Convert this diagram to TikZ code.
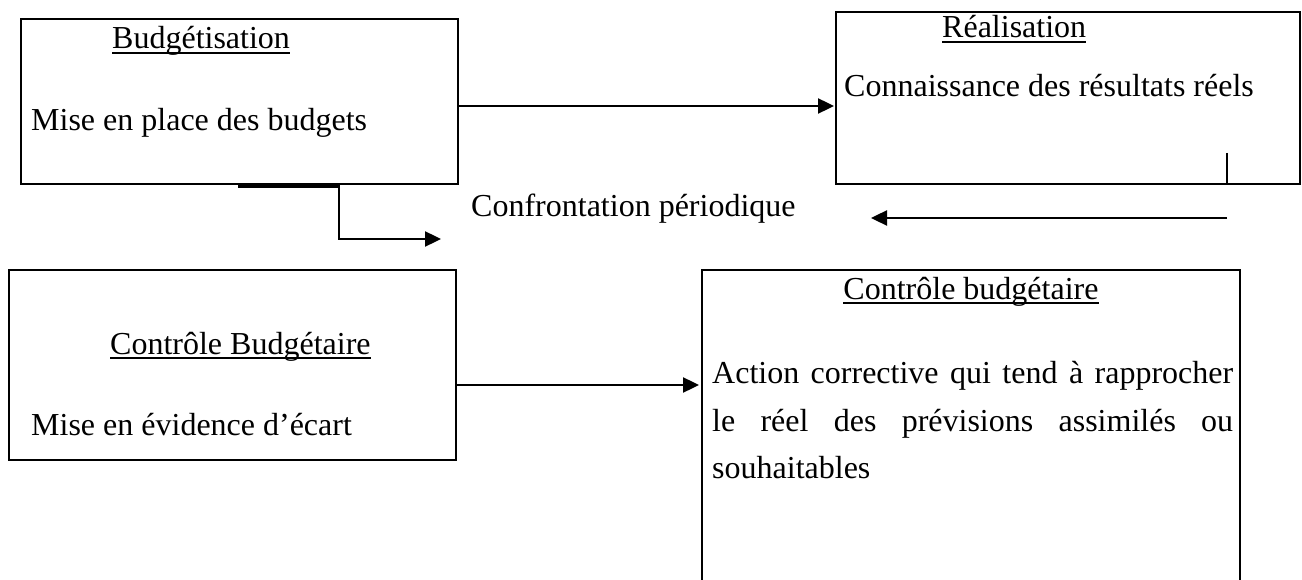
\documentclass[tikz,border=0pt]{standalone}
\usepackage{fontspec}
\setmainfont{Liberation Serif}
\usetikzlibrary{arrows.meta,calc}
\newcommand{\myul}[1]{\setbox0\hbox{#1}\rlap{\rule[-4.6pt]{\wd0}{1.9pt}}\box0}
\begin{document}
\begin{tikzpicture}[x=1pt,y=-1pt,
  boxst/.style={draw, line width=2.4pt, inner sep=0pt, outer sep=0pt, anchor=north west},
  txt/.style={anchor=base west, inner sep=0pt, font=\fontsize{32}{48}\selectfont},
  conn/.style={line width=2.4pt, -{Triangle[length=16pt,width=15pt]}},
  thinline/.style={line width=1.5pt}]
\useasboundingbox (0,0) rectangle (1302,580);
\clip (0,0) rectangle (1302,580);
\fill[white] (0,0) rectangle (1302,580);
% boxes
\node[boxst, minimum width=437pt, minimum height=165pt] (b1) at (21,19) {};
\node[boxst, minimum width=464pt, minimum height=172pt] (b2) at (836,12) {};
\node[boxst, minimum width=447pt, minimum height=190pt] (b3) at (9,270) {};
\node[boxst, minimum width=538pt, minimum height=340pt] (b4) at (702,270) {};
% texts
\node[txt] (t1) at (112,49) {\myul{Budgétisation}};
\node[txt] (t1b) at (31,131) {Mise en place des budgets};
\node[txt] (t2) at (942,38) {\myul{Réalisation}};
\node[txt] (t2b) at (844,97) {Connaissance des résultats réels};
\node[txt] (conf) at (471,217) {Confrontation périodique};
\node[txt] (t3) at (110,354) {\myul{Contrôle Budgétaire}};
\node[txt] (t3b) at (31,435) {Mise en évidence d’écart};
\node[txt, anchor=base] (t4) at (971,299) {\myul{Contrôle budgétaire}};
\node[txt] (t4a) at (712,383) {\makebox[521pt][s]{Action corrective qui tend à rapprocher}};
\node[txt] (t4b) at (712,431) {\makebox[521pt][s]{le réel des prévisions assimilés ou}};
\node[txt] (t4c) at (712,478) {souhaitables};
% connectors
\coordinate (a1s) at ($(b1.east)+(0,4.5)$);
\draw[conn, shorten >=2pt] (a1s) -- (a1s -| b2.west);
\coordinate (k0) at (238,186.5);
\coordinate (k1) at (339,186.5);
\coordinate (k2) at (339,239);
\coordinate (k3) at (441,239);
\draw[conn] (k0) -- (k1) -- (k2) -- (k3);
\coordinate (r0) at (1227,153);
\draw[thinline] (r0) -- (r0 |- b2.south);
\coordinate (r1) at (1227,218);
\coordinate (r2) at (871,218);
\draw[conn] (r1) -- (r2);
\coordinate (a3s) at ($(b3.east)+(0,20)$);
\draw[conn, shorten >=3pt] (a3s) -- (a3s -| b4.west);
\end{tikzpicture}
\end{document}
